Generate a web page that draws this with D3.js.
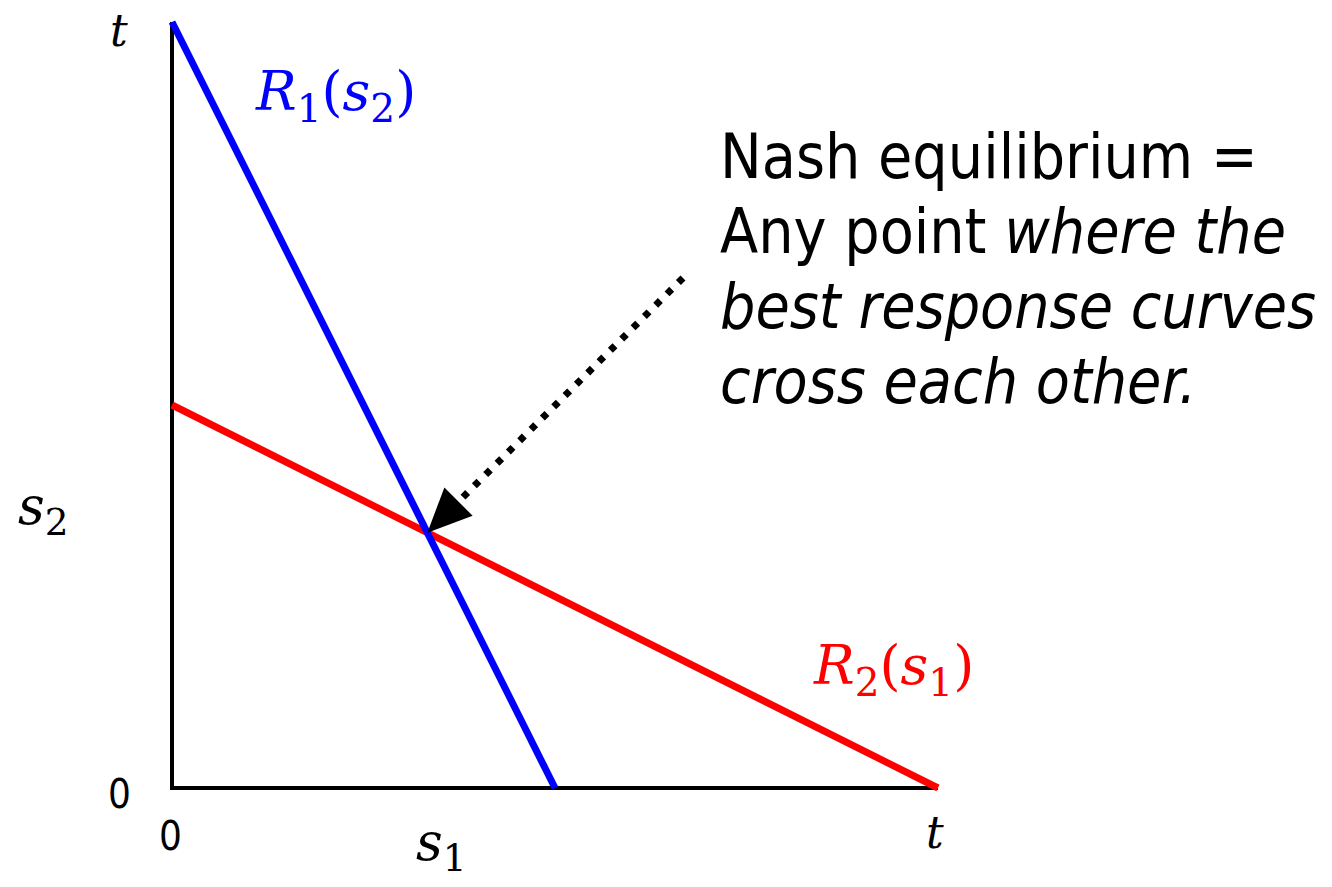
<!DOCTYPE html>
<head>
  <meta charset="utf-8">
  <title>Best response curves</title>
  <style>
    body { margin: 0; background: #fff; }
    .math { font-family: "DejaVu Serif", serif; font-style: italic; }
    .sans { font-family: "DejaVu Sans Condensed", "DejaVu Sans", sans-serif; }
  </style>
</head>
<body>
  <div id="chart"></div>
  <script src="https://d3js.org/d3.v7.min.js"></script>
  <script>
    // best response lines, in units of t
    const r1Points = [[0, 1], [0.5, 0]];
    const r2Points = [[0, 0.5], [1, 0]];
    const axisPoints = [[0, 1], [0, 0], [1, 0]];
    const noteLines = [
      [["Nash equilibrium =", false]],
      [["Any point ", false], ["where the", true]],
      [["best response curves", true]],
      [["cross each other.", true]]
    ];

    const width = 1332, height = 887;

    const x = d3.scaleLinear().domain([0, 1]).range([172, 938]);
    const y = d3.scaleLinear().domain([0, 1]).range([788, 22]);

    const svg = d3.select('#chart').append('svg')
      .attr('width', width)
      .attr('height', height);

    const line = d3.line().x(d => x(d[0])).y(d => y(d[1]));

    svg.append('path')
      .attr('d', line(axisPoints))
      .attr('fill', 'none')
      .attr('stroke', '#000')
      .attr('stroke-width', 4);

    svg.append('path')
      .attr('d', line(r2Points))
      .attr('fill', 'none')
      .attr('stroke', '#ff0000')
      .attr('stroke-width', 7);

    svg.append('path')
      .attr('d', line(r1Points))
      .attr('fill', 'none')
      .attr('stroke', '#0000ff')
      .attr('stroke-width', 7);

    // arrow to the crossing point
    const cross = [1 / 3, 1 / 3];
    const tip = [x(cross[0]), y(cross[1])];
    const start = [683, 278];
    const ang = Math.atan2(tip[1] - start[1], tip[0] - start[0]);
    const headLen = 44, headW = 20;
    const base = [tip[0] - headLen * Math.cos(ang), tip[1] - headLen * Math.sin(ang)];

    svg.append('line')
      .attr('x1', start[0]).attr('y1', start[1])
      .attr('x2', base[0]).attr('y2', base[1])
      .attr('stroke', '#000')
      .attr('stroke-width', 7)
      .attr('stroke-dasharray', '6.5 9.5');

    const px = -Math.sin(ang), py = Math.cos(ang);
    svg.append('path')
      .attr('d', `M${tip[0]},${tip[1]}L${base[0] + px * headW},${base[1] + py * headW}L${base[0] - px * headW},${base[1] - py * headW}Z`)
      .attr('fill', '#000');

    // axis labels
    svg.append('text').attr('class', 'math').attr('x', 110).attr('y', 46)
      .attr('font-size', 44).text('t');
    svg.append('text').attr('class', 'math').attr('x', 926).attr('y', 848)
      .attr('font-size', 44).text('t');
    svg.append('text').attr('class', 'sans').attr('x', 108).attr('y', 808)
      .attr('font-size', 40).text('0');
    svg.append('text').attr('class', 'sans').attr('x', 159).attr('y', 850)
      .attr('font-size', 40).text('0');

    const sub = (sel, main, idx, size) => {
      sel.append('tspan').text(main);
      sel.append('tspan').attr('dy', size * 0.22).attr('font-size', size * 0.72)
        .attr('font-style', 'normal').text(idx);
    };

    const s2 = svg.append('text').attr('class', 'math').attr('x', 18).attr('y', 524).attr('font-size', 52);
    sub(s2, 's', '2', 52);
    const s1 = svg.append('text').attr('class', 'math').attr('x', 416).attr('y', 860).attr('font-size', 52);
    sub(s1, 's', '1', 52);

    const rLabel = (xp, yp, color, a, b) => {
      const t = svg.append('text').attr('class', 'math').attr('x', xp).attr('y', yp)
        .attr('font-size', 54).attr('fill', color);
      t.append('tspan').text('R');
      t.append('tspan').attr('dy', 12).attr('font-size', 39).attr('font-style', 'normal').text(a);
      t.append('tspan').attr('dy', -12).attr('font-style', 'normal').text('(');
      t.append('tspan').text('s');
      t.append('tspan').attr('dy', 12).attr('font-size', 39).attr('font-style', 'normal').text(b);
      t.append('tspan').attr('dy', -12).attr('font-style', 'normal').text(')');
    };
    rLabel(256, 110, '#0000ff', '1', '2');
    rLabel(814, 684, '#ff0000', '2', '1');

    // note text
    const note = svg.append('g').attr('class', 'sans').attr('font-size', 62);
    noteLines.forEach((parts, i) => {
      const t = note.append('text').attr('x', 720).attr('y', 178 + i * 75);
      parts.forEach(p => t.append('tspan')
        .attr('font-style', p[1] ? 'italic' : 'normal')
        .text(p[0]));
    });
  </script>
</body>
</html>
